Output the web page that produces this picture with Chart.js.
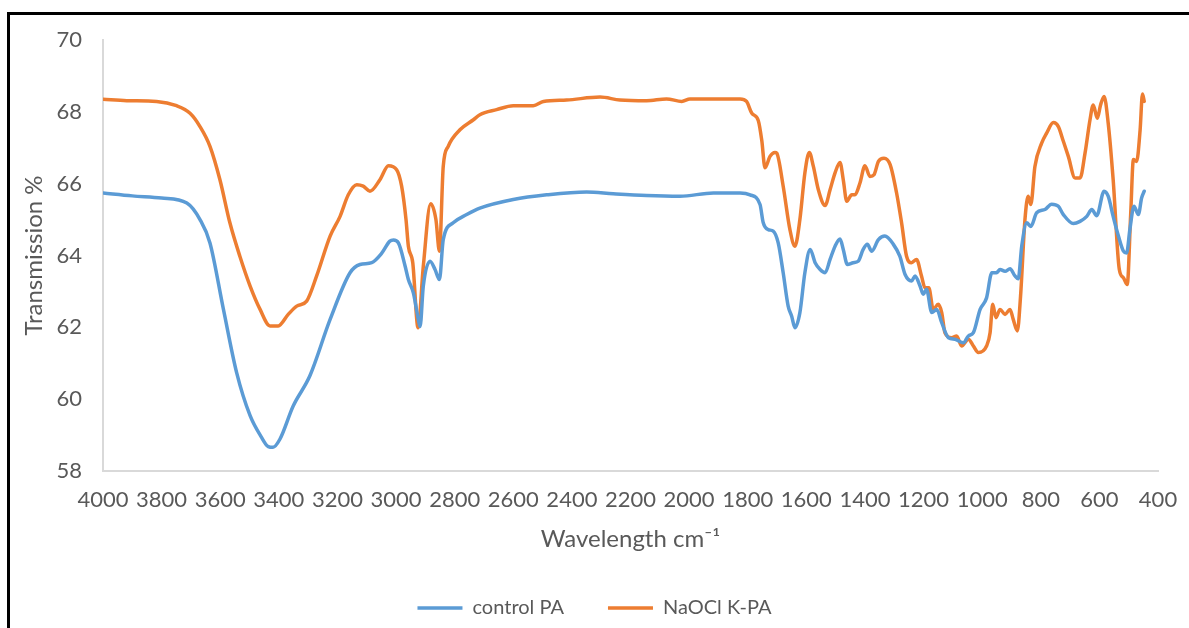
<!DOCTYPE html>
<html>
<head>
<meta charset="utf-8">
<script src="https://cdn.jsdelivr.net/npm/chart.js@4.4.1/dist/chart.umd.min.js"></script>
<style>
  html, body { margin: 0; padding: 0; background: #fff; }
  #wrap { position: relative; width: 1189px; height: 628px; overflow: hidden; }
  #frame {
    position: absolute; left: 7px; top: 12px; width: 1200px; height: 640px;
    border-left: 3px solid #000; border-top: 3px solid #000; pointer-events: none;
  }
</style>
</head>
<body>
<div id="wrap">
  <canvas id="chart-ftir" width="1189" height="628"></canvas>
  <div id="frame"></div>
</div>
<script>
// wavenumbers (cm-1) and transmission (%)
const controlWn = [4000, 3900, 3800, 3714, 3669, 3635, 3589, 3544, 3498, 3460, 3436, 3420, 3396, 3351, 3294, 3225, 3157, 3123, 3083, 3050, 3021, 3009, 2992, 2969, 2958, 2941, 2924, 2918, 2907, 2884, 2867, 2852, 2839, 2805, 2759, 2714, 2600, 2486, 2350, 2259, 2145, 2031, 1917, 1826, 1792, 1758, 1747, 1730, 1713, 1696, 1679, 1662, 1650, 1639, 1622, 1605, 1587, 1570, 1553, 1536, 1519, 1502, 1485, 1474, 1460, 1440, 1423, 1406, 1392, 1377, 1354, 1332, 1303, 1281, 1263, 1241, 1229, 1212, 1201, 1190, 1172, 1155, 1138, 1115, 1093, 1064, 1047, 1030, 1007, 985, 967, 951, 939, 922, 905, 888, 877, 865, 848, 834, 814, 786, 763, 740, 723, 689, 666, 643, 626, 609, 584, 570, 553, 535, 518, 507, 496, 482, 467, 456, 447];
const controlT = [65.74, 65.66, 65.6, 65.46, 65.0, 64.35, 62.5, 60.74, 59.54, 58.95, 58.68, 58.66, 58.89, 59.81, 60.65, 62.22, 63.52, 63.75, 63.8, 64.05, 64.4, 64.43, 64.35, 63.7, 63.33, 62.96, 62.22, 62.02, 63.15, 63.84, 63.61, 63.33, 64.44, 64.91, 65.14, 65.32, 65.56, 65.69, 65.77, 65.72, 65.67, 65.65, 65.74, 65.74, 65.69, 65.42, 64.91, 64.72, 64.68, 64.35, 63.52, 62.59, 62.31, 61.99, 62.41, 63.52, 64.17, 63.8, 63.61, 63.52, 63.89, 64.26, 64.46, 64.17, 63.75, 63.8, 63.84, 64.17, 64.31, 64.12, 64.44, 64.54, 64.31, 63.98, 63.47, 63.29, 63.43, 63.15, 62.92, 63.06, 62.41, 62.5, 62.13, 61.71, 61.67, 61.57, 61.76, 61.85, 62.5, 62.82, 63.52, 63.52, 63.61, 63.56, 63.63, 63.43, 63.35, 64.26, 64.91, 64.81, 65.19, 65.28, 65.43, 65.37, 65.14, 64.89, 64.95, 65.09, 65.28, 65.11, 65.79, 65.65, 65.09, 64.54, 64.12, 64.07, 64.72, 65.37, 65.14, 65.6, 65.79];

const naoclWn = [4000, 3919, 3817, 3749, 3703, 3669, 3635, 3601, 3567, 3533, 3498, 3464, 3430, 3402, 3368, 3339, 3305, 3271, 3225, 3191, 3163, 3134, 3112, 3089, 3055, 3026, 2998, 2981, 2966, 2958, 2943, 2925, 2907, 2882, 2864, 2852, 2839, 2822, 2782, 2736, 2714, 2657, 2600, 2532, 2497, 2418, 2304, 2236, 2145, 2077, 2025, 1997, 1826, 1804, 1786, 1764, 1752, 1741, 1724, 1707, 1701, 1679, 1656, 1639, 1622, 1605, 1590, 1576, 1559, 1536, 1519, 1502, 1485, 1474, 1462, 1445, 1434, 1417, 1400, 1383, 1369, 1354, 1335, 1314, 1292, 1275, 1258, 1241, 1224, 1207, 1195, 1182, 1167, 1150, 1138, 1127, 1104, 1087, 1070, 1047, 1030, 1013, 985, 973, 964, 953, 939, 922, 905, 894, 880, 869, 854, 843, 834, 820, 797, 780, 757, 740, 723, 706, 683, 666, 649, 632, 621, 607, 596, 584, 570, 553, 532, 518, 505, 493, 484, 473, 461, 453, 447];
const naoclT = [68.35, 68.31, 68.29, 68.17, 67.96, 67.59, 67.04, 66.11, 64.91, 63.98, 63.15, 62.5, 62.04, 62.04, 62.36, 62.59, 62.73, 63.43, 64.54, 65.09, 65.69, 65.97, 65.93, 65.79, 66.11, 66.5, 66.39, 65.93, 65.0, 64.26, 63.8, 61.99, 63.7, 65.44, 65.0, 64.12, 66.48, 67.04, 67.5, 67.78, 67.92, 68.06, 68.17, 68.17, 68.29, 68.33, 68.41, 68.33, 68.31, 68.36, 68.29, 68.36, 68.36, 68.29, 67.96, 67.76, 67.2, 66.44, 66.76, 66.87, 66.85, 65.93, 64.72, 64.26, 65.0, 66.3, 66.87, 66.48, 65.83, 65.39, 65.83, 66.3, 66.59, 66.11, 65.51, 65.69, 65.69, 66.02, 66.5, 66.2, 66.25, 66.62, 66.71, 66.53, 65.74, 64.91, 63.98, 63.8, 63.89, 63.43, 63.1, 63.1, 62.5, 62.64, 62.41, 61.85, 61.71, 61.76, 61.48, 61.67, 61.48, 61.3, 61.48, 61.85, 62.64, 62.27, 62.5, 62.36, 62.5, 62.22, 61.9, 62.87, 65.0, 65.65, 65.42, 66.48, 67.13, 67.41, 67.7, 67.59, 67.18, 66.76, 66.16, 66.16, 66.85, 67.78, 68.19, 67.82, 68.19, 68.43, 67.69, 66.11, 63.61, 63.38, 63.19, 65.19, 66.67, 66.62, 67.5, 68.5, 68.29];

const seriesNames = ['control PA', 'NaOCl K-PA'];
const seriesColors = ['#5B9BD5', '#ED7D31'];

const xTitle = 'Wavelength cm\u207B\u00B9';
const yTitle = 'Transmission %';

const grey = '#595959';

function toPoints(wn, t) {
    return wn.map((w, i) => ({ x: w, y: t[i] }));
}

function draw() {
    Chart.defaults.font.family = 'Lato';
    Chart.defaults.color = grey;

    const data = {
        datasets: [
            {
                label: seriesNames[0],
                data: toPoints(controlWn, controlT),
                borderColor: seriesColors[0],
                backgroundColor: seriesColors[0],
                borderWidth: 3.5,
            },
            {
                label: seriesNames[1],
                data: toPoints(naoclWn, naoclT),
                borderColor: seriesColors[1],
                backgroundColor: seriesColors[1],
                borderWidth: 3.5,
            }
        ]
    };

    const options = {
        responsive: false,
        animation: false,
        devicePixelRatio: 1,
        layout: {
            padding: { top: 40, left: 0, right: 0, bottom: 0 }
        },
        elements: {
            point: { radius: 0 },
            line: { cubicInterpolationMode: 'monotone', borderCapStyle: 'round', borderJoinStyle: 'round' }
        },
        scales: {
            x: {
                type: 'linear',
                reverse: true,
                min: 400,
                max: 4000,
                grid: { drawOnChartArea: false, drawTicks: false },
                border: { display: true, color: '#D9D9D9', width: 2 },
                ticks: {
                    stepSize: 200,
                    autoSkip: false,
                    maxRotation: 0,
                    padding: 16,
                    font: { size: 22 },
                    color: grey,
                    callback: (value) => String(value)
                },
                title: {
                    display: true,
                    text: xTitle,
                    font: { size: 24 },
                    color: grey,
                    padding: { top: 0, bottom: 0 }
                },
                afterFit: (scale) => {
                    scale.paddingLeft = 0;
                    scale.paddingRight = 31;
                    scale.height = 157 - scale.chart.legend.height;
                }
            },
            y: {
                min: 58,
                max: 70,
                grid: { drawOnChartArea: false, drawTicks: false },
                border: { display: true, color: '#D9D9D9', width: 2 },
                ticks: {
                    stepSize: 2,
                    padding: 21,
                    font: { size: 22 },
                    color: grey
                },
                title: {
                    display: true,
                    text: yTitle,
                    font: { size: 24 },
                    color: grey,
                    padding: { top: 20, bottom: 0 }
                },
                afterFit: (scale) => {
                    scale.width = 103;
                    scale.paddingTop = 0;
                    scale.paddingBottom = 0;
                }
            }
        },
        plugins: {
            legend: {
                display: true,
                position: 'bottom',
                labels: {
                    usePointStyle: true,
                    pointStyle: 'line',
                    pointStyleWidth: 45,
                    padding: 44,
                    font: { size: 20 },
                    color: grey
                }
            },
            tooltip: { enabled: false }
        }
    };

    const chart_ftir = new Chart(
        document.getElementById('chart-ftir'),
        { type: 'line', data: data, options: options }
    );
}

if (document.fonts && document.fonts.load) {
    document.fonts.load('22px Lato').then(draw, draw);
} else {
    draw();
}
</script>
</body>
</html>
